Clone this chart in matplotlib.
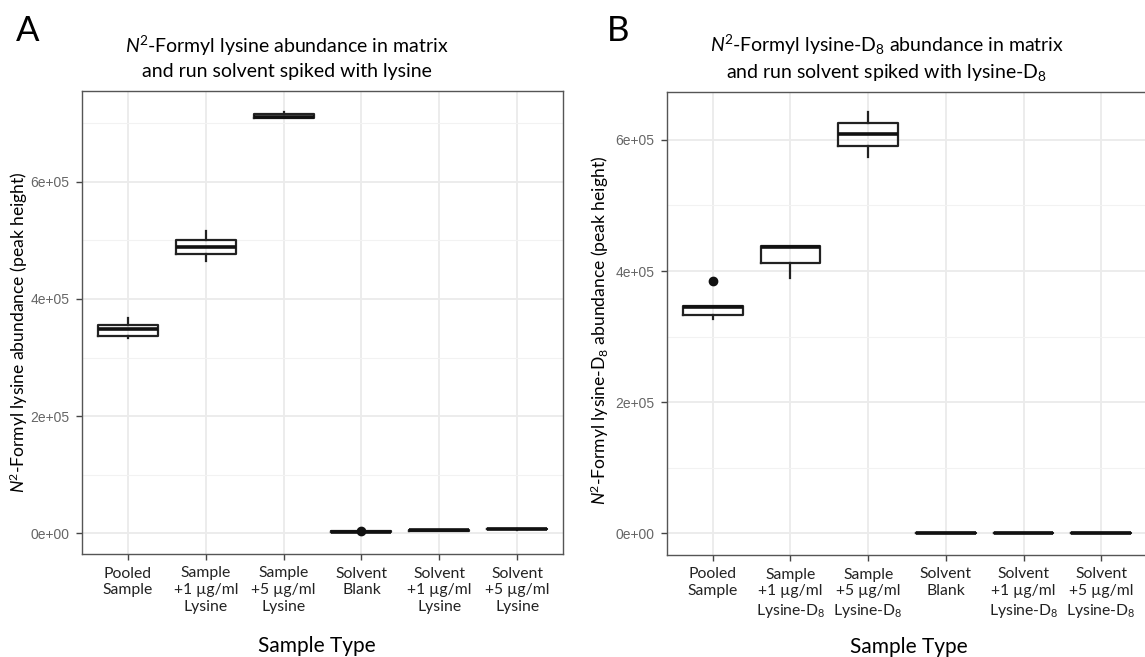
import matplotlib
matplotlib.use("Agg")
import matplotlib.pyplot as plt
from matplotlib.ticker import MultipleLocator

plt.rcParams['mathtext.fontset'] = 'custom'
plt.rcParams['mathtext.rm'] = 'Lato'
plt.rcParams['mathtext.it'] = 'Lato:italic'
plt.rcParams['mathtext.bf'] = 'Lato:bold'

LABEL_FONT = 'Lato'
TICK_FONT = 'Liberation Sans'

# x categories for each panel
groups_a = ["Pooled\nSample", "Sample\n+1 µg/ml\nLysine", "Sample\n+5 µg/ml\nLysine",
            "Solvent\nBlank", "Solvent\n+1 µg/ml\nLysine", "Solvent\n+5 µg/ml\nLysine"]
groups_b = ["Pooled\nSample", "Sample\n+1 µg/ml\nLysine-D$_8$", "Sample\n+5 µg/ml\nLysine-D$_8$",
            "Solvent\nBlank", "Solvent\n+1 µg/ml\nLysine-D$_8$", "Solvent\n+5 µg/ml\nLysine-D$_8$"]

# box statistics (peak height), panel A: unlabelled lysine
low_a = [3.34e5, 4.65e5, 7.08e5, 1.5e3, 4.2e3, 6.5e3]
q1_a = [3.36e5, 4.76e5, 7.08e5, 2.0e3, 4.6e3, 6.9e3]
med_a = [3.48e5, 4.88e5, 7.11e5, 3.0e3, 5.1e3, 7.3e3]
q3_a = [3.55e5, 5.01e5, 7.15e5, 3.8e3, 5.6e3, 7.8e3]
high_a = [3.67e5, 5.15e5, 7.18e5, 4.2e3, 5.9e3, 8.1e3]
outliers_a = [[], [], [], [4.8e3], [], []]

# panel B: lysine-D8
low_b = [3.265e5, 3.89e5, 5.745e5, 0.0, 0.0, 0.0]
q1_b = [3.33e5, 4.12e5, 5.91e5, 0.0, 0.0, 0.0]
med_b = [3.46e5, 4.37e5, 6.085e5, 100.0, 100.0, 100.0]
q3_b = [3.47e5, 4.38e5, 6.25e5, 300.0, 300.0, 300.0]
high_b = [3.47e5, 4.38e5, 6.42e5, 400.0, 400.0, 400.0]
outliers_b = [[3.85e5], [], [], [], [], []]

y_ticks = [0, 2e5, 4e5, 6e5]
y_tick_labels = ["0e+00", "2e+05", "4e+05", "6e+05"]


def draw_panel(ax, groups, low, q1, med, q3, high, outliers, ylim):
    stats = []
    for i in range(len(groups)):
        stats.append(dict(whislo=low[i], q1=q1[i], med=med[i], q3=q3[i],
                          whishi=high[i], fliers=outliers[i]))
    ax.bxp(stats, positions=list(range(len(groups))), widths=0.77, showcaps=False,
           boxprops=dict(color='#222222', linewidth=1.6),
           whiskerprops=dict(color='#222222', linewidth=1.6),
           medianprops=dict(color='#111111', linewidth=2.6),
           flierprops=dict(marker='o', markerfacecolor='#111111', markeredgecolor='#111111',
                           markersize=6),
           zorder=3)
    ax.set_xlim(-0.59, len(groups) - 0.41)
    ax.set_ylim(*ylim)
    ax.set_xticks(range(len(groups)))
    ax.set_xticklabels(groups, fontsize=11.3, family=LABEL_FONT, color='#222222',
                       linespacing=1.25)
    ax.set_yticks(y_ticks)
    ax.set_yticklabels(y_tick_labels, fontsize=10, family=TICK_FONT, color='#666666')
    ax.yaxis.set_minor_locator(MultipleLocator(1e5))
    ax.grid(True, which='major', color='#ebebeb', linewidth=1.3, zorder=0)
    ax.grid(True, which='minor', axis='y', color='#f2f2f2', linewidth=0.8, zorder=0)
    ax.set_axisbelow(True)
    ax.tick_params(axis='both', which='major', length=4, width=1.0, color='#444444', pad=5)
    ax.tick_params(axis='y', which='minor', length=0)
    for sp in ax.spines.values():
        sp.set_color('#555555')
        sp.set_linewidth(1.0)


W, H = 1145, 657
fig = plt.figure(figsize=(W / 100, H / 100), dpi=100)


def box(l, t, r, b):
    return [l / W, 1 - b / H, (r - l) / W, (b - t) / H]


ax_a = fig.add_axes(box(82, 91, 563, 554))
ax_b = fig.add_axes(box(667, 92, 1147, 555))

draw_panel(ax_a, groups_a, low_a, q1_a, med_a, q3_a, high_a, outliers_a, (-0.35e5, 7.545e5))
draw_panel(ax_b, groups_b, low_b, q1_b, med_b, q3_b, high_b, outliers_b, (-0.328e5, 6.73e5))

# panel letters and titles
fig.text(28 / W, 1 - 31 / H, "A", fontsize=25, family=LABEL_FONT, ha='center', va='center')
fig.text(618 / W, 1 - 31 / H, "B", fontsize=25, family=LABEL_FONT, ha='center', va='center')

fig.text(287 / W, 1 - 57 / H,
         "$\\it{N}$$^2$-Formyl lysine abundance in matrix\nand run solvent spiked with lysine",
         fontsize=14, family=LABEL_FONT, ha='center', va='center', linespacing=1.35)
fig.text(887 / W, 1 - 58 / H,
         "$\\it{N}$$^2$-Formyl lysine-D$_8$ abundance in matrix\nand run solvent spiked with lysine-D$_8$",
         fontsize=14, family=LABEL_FONT, ha='center', va='center', linespacing=1.35)

fig.text(19 / W, 1 - 332 / H, "$\\it{N}$$^2$-Formyl lysine abundance (peak height)",
         rotation=90, fontsize=12.6, family=LABEL_FONT, ha='center', va='center')
fig.text(600 / W, 1 - 330 / H, "$\\it{N}$$^2$-Formyl lysine-D$_8$ abundance (peak height)",
         rotation=90, fontsize=12.6, family=LABEL_FONT, ha='center', va='center')

fig.text(317 / W, 1 - 646 / H, "Sample Type", fontsize=15, family=LABEL_FONT,
         ha='center', va='center')
fig.text(909 / W, 1 - 647 / H, "Sample Type", fontsize=15, family=LABEL_FONT,
         ha='center', va='center')

fig.savefig("out.png", dpi=100)
